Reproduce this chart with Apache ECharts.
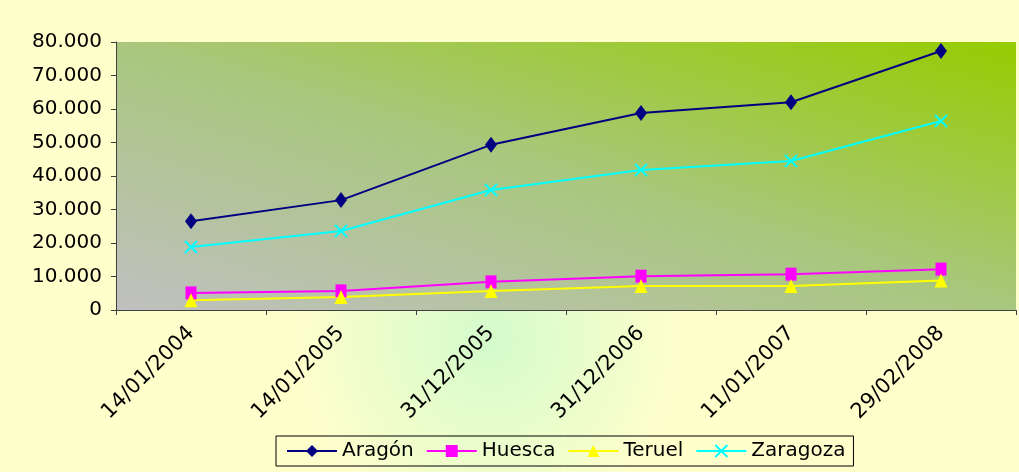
<!DOCTYPE html>
<html>
<head>
<meta charset="utf-8">
<script src="https://cdn.jsdelivr.net/npm/echarts@6/dist/echarts.min.js"></script>
<style>
  html, body { margin: 0; padding: 0; background: #FFFFCC; }
  #chart { width: 1019px; height: 472px; }
</style>
</head>
<body>
<div id="chart"></div>
<script>
// fechas de los recuentos
const categories = ['14/01/2004', '14/01/2005', '31/12/2005', '31/12/2006', '11/01/2007', '29/02/2008'];
const aragon = [26500, 32800, 49300, 58800, 62000, 77300];
const huesca = [5100, 5700, 8400, 10100, 10700, 12200];
const teruel = [2900, 3900, 5700, 7200, 7200, 8800];
const zaragoza = [18800, 23600, 35800, 41800, 44500, 56400];

function fmt(v) {
    return String(v).replace(/\B(?=(\d{3})+(?!\d))/g, '.');
}

function makeSeries(name, data, color, symbol, size) {
    return {
        name: name,
        type: 'line',
        data: data,
        symbol: symbol,
        symbolSize: size,
        lineStyle: { color: color, width: 2 },
        itemStyle: { color: color, borderColor: color, borderWidth: symbol.indexOf('path') === 0 ? 2 : 0 },
        emphasis: { disabled: true }
    };
}

window.onload = function () {
    const chart = echarts.init(document.getElementById('chart'));
    const font = 'DejaVu Sans';
    chart.setOption({
        animation: false,
        backgroundColor: new echarts.graphic.RadialGradient(0.48, 0.72, 0.42, [
            { offset: 0, color: '#D4FBCB' },
            { offset: 1, color: '#FFFFCC' }
        ]),
        grid: {
            left: 116, right: 3, top: 42, bottom: 162,
            show: true,
            borderWidth: 0,
            // diagonal: gris abajo-izquierda, verde arriba-derecha
            backgroundColor: new echarts.graphic.LinearGradient(493, 422, 639, -70, [
                { offset: 0, color: '#C0C0C0' },
                { offset: 0.5, color: '#A9C77E' },
                { offset: 1, color: '#96CC00' }
            ], true)
        },
        legend: {
            left: 276,
            top: 436,
            padding: [5, 8, 5, 10],
            itemGap: 12,
            itemWidth: 50,
            itemHeight: 15,
            borderColor: '#000',
            borderWidth: 1,
            textStyle: { fontFamily: font, fontSize: 20, color: '#000' },
            data: ['Aragón', 'Huesca', 'Teruel', 'Zaragoza']
        },
        xAxis: {
            type: 'category',
            data: categories,
            boundaryGap: true,
            axisLine: { lineStyle: { color: '#404040', width: 1 } },
            axisTick: { show: true, length: 5, lineStyle: { color: '#404040' } },
            axisLabel: {
                rotate: 45,
                interval: 0,
                margin: 20,
                fontFamily: font,
                fontSize: 21,
                color: '#000'
            }
        },
        yAxis: {
            type: 'value',
            min: 0,
            max: 80000,
            interval: 10000,
            splitLine: { show: false },
            axisLine: { show: true, lineStyle: { color: '#404040', width: 1 } },
            axisTick: { show: true, length: 5, lineStyle: { color: '#404040' } },
            axisLabel: {
                margin: 14,
                fontFamily: font,
                fontSize: 20,
                color: '#000',
                formatter: fmt
            }
        },
        series: [
            makeSeries('Aragón', aragon, '#000080', 'diamond', [12, 16]),
            makeSeries('Huesca', huesca, '#FF00FF', 'rect', [11, 13]),
            makeSeries('Teruel', teruel, '#FFFF00', 'triangle', [13, 14]),
            makeSeries('Zaragoza', zaragoza, '#00FFFF', 'path://M0,0L10,10M10,0L0,10', 12)
        ]
    });
};
</script>
</body>
</html>
